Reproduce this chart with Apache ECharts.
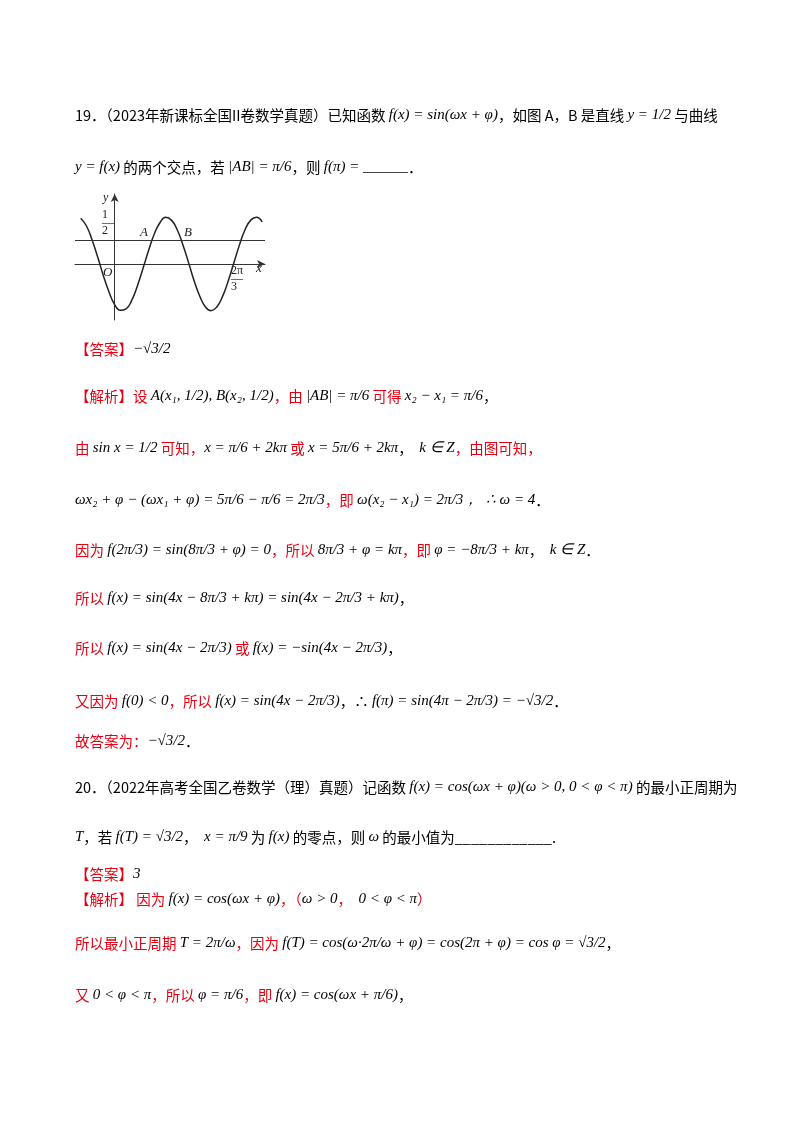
<!DOCTYPE html>
<html><head><meta charset="utf-8">
<script src="https://cdn.jsdelivr.net/npm/echarts@6/dist/echarts.min.js"></script>
<style>html,body{margin:0;background:#fff}#main{width:800px;height:1132px}</style>
</head><body><div id="main"></div>
<script>
// curve, x step 0.1 from -0.6
var xs = [-0.6,-0.5,-0.4,-0.3,-0.2,-0.1,0,0.1,0.2,0.3,0.4,0.5,0.6,0.7,0.8,0.9,1.0,1.1,1.2,1.3,1.4,1.5,1.6,1.7,1.8,1.9,2.0,2.1,2.2,2.3,2.4,2.5,2.6];
var ys = [0.98,0.82,0.52,0.15,-0.25,-0.6,-0.87,-0.99,-0.96,-0.78,-0.47,-0.09,0.3,0.65,0.89,1.0,0.94,0.74,0.42,0.04,-0.36,-0.69,-0.92,-1.0,-0.92,-0.7,-0.37,0.02,0.41,0.74,0.94,1.0,0.9];
var halfLine = 0.5;

var pts = xs.map(function(x, i){ return [x, ys[i]]; });
var RED = '#e60012';
var F = '"Noto Sans CJK SC", "Times New Roman", serif';

var lines = [
  [118, [['19．（2023年新课标全国II卷数学真题）已知函数 ','k'],['f(x) = sin(ωx + φ)','m'],['，如图 A，B 是直线 ','k'],['y = 1/2','m'],[' 与曲线','k']]],
  [170, [['y = f(x)','m'],[' 的两个交点，若 ','k'],['|AB| = π/6','m'],['，则 ','k'],['f(π) = ______','m'],['．','k']]],
  [352, [['【答案】','r'],['−√3/2','m']]],
  [399, [['【解析】设 ','r'],['A(x₁, 1/2), B(x₂, 1/2)','m'],['，由 ','r'],['|AB| = π/6','m'],[' 可得 ','r'],['x₂ − x₁ = π/6','m'],['，','k']]],
  [451, [['由 ','r'],['sin x = 1/2','m'],[' 可知，','r'],['x = π/6 + 2kπ','m'],[' 或 ','r'],['x = 5π/6 + 2kπ','m'],['，  ','k'],['k ∈ Z','m'],['，由图可知，','r']]],
  [503, [['ωx₂ + φ − (ωx₁ + φ) = 5π/6 − π/6 = 2π/3','m'],['，即 ','r'],['ω(x₂ − x₁) = 2π/3','m'],['，  ∴ ω = 4','m'],['．','k']]],
  [553, [['因为 ','r'],['f(2π/3) = sin(8π/3 + φ) = 0','m'],['，所以 ','r'],['8π/3 + φ = kπ','m'],['，即 ','r'],['φ = −8π/3 + kπ','m'],['，  ','k'],['k ∈ Z','m'],['．','k']]],
  [601, [['所以 ','r'],['f(x) = sin(4x − 8π/3 + kπ) = sin(4x − 2π/3 + kπ)','m'],['，','k']]],
  [651, [['所以 ','r'],['f(x) = sin(4x − 2π/3)','m'],[' 或 ','r'],['f(x) = −sin(4x − 2π/3)','m'],['，','k']]],
  [704, [['又因为 ','r'],['f(0) < 0','m'],['，所以 ','r'],['f(x) = sin(4x − 2π/3)','m'],['，∴ ','k'],['f(π) = sin(4π − 2π/3) = −√3/2','m'],['．','k']]],
  [744, [['故答案为：','r'],['−√3/2','m'],['．','k']]],
  [790, [['20．（2022年高考全国乙卷数学（理）真题）记函数 ','k'],['f(x) = cos(ωx + φ)(ω > 0, 0 < φ < π)','m'],[' 的最小正周期为','k']]],
  [840, [['T','m'],['，若 ','k'],['f(T) = √3/2','m'],['，  ','k'],['x = π/9','m'],[' 为 ','k'],['f(x)','m'],[' 的零点，则 ','k'],['ω','m'],[' 的最小值为____________.','k']]],
  [877, [['【答案】','r'],['3','m']]],
  [902, [['【解析】 因为 ','r'],['f(x) = cos(ωx + φ)','m'],['，（','r'],['ω > 0','m'],['，  ','r'],['0 < φ < π','m'],['）','r']]],
  [946, [['所以最小正周期 ','r'],['T = 2π/ω','m'],['，因为 ','r'],['f(T) = cos(ω·2π/ω + φ) = cos(2π + φ) = cos φ = √3/2','m'],['，','k']]],
  [998, [['又 ','r'],['0 < φ < π','m'],['，所以 ','r'],['φ = π/6','m'],['，即 ','r'],['f(x) = cos(ωx + π/6)','m'],['，','k']]]
];

var graphics = lines.map(function(l){
  var t = l[1].map(function(p){ return '{' + p[1] + '|' + p[0] + '}'; }).join('');
  return { type:'text', left:75, top:l[0]-10, style:{ text:t, rich:{
    k:{ fill:'#000', fontSize:14.5, fontFamily:F },
    r:{ fill:RED, fontSize:14.5, fontFamily:F },
    m:{ fill:'#000', fontSize:15, fontFamily:'"Liberation Serif", serif', fontStyle:'italic' }
  }}};
});

var myChart = echarts.init(document.getElementById('main'));
var option = {
  backgroundColor:'#fff',
  animation:false,
  grid:{ left:75, right:535, top:194, bottom:812 },
  xAxis:{ type:'value', min:-0.7, max:2.65, splitLine:{show:false}, axisTick:{show:false}, axisLabel:{show:false},
    axisLine:{ onZero:true, symbol:['none','arrow'], symbolSize:[6,8], lineStyle:{color:'#333', width:1} } },
  yAxis:{ type:'value', min:-1.2, max:1.5, splitLine:{show:false}, axisTick:{show:false}, axisLabel:{show:false},
    axisLine:{ onZero:true, symbol:['none','arrow'], symbolSize:[6,8], lineStyle:{color:'#333', width:1} } },
  series:[{
    type:'line', data:pts, smooth:true, showSymbol:false, lineStyle:{ color:'#222', width:1.5 },
    markLine:{ silent:true, symbol:'none', label:{show:false}, lineStyle:{ color:'#333', width:1, type:'solid' },
      data:[[{coord:[-0.7, halfLine]},{coord:[2.65, halfLine]}]] }
  }],
  graphic: graphics.concat([
    { type:'text', left:103, top:192, style:{ text:'y', font:'italic 12px "Liberation Serif"', fill:'#222' } },
    { type:'text', left:102, top:209, style:{ text:'1\n—\n2', font:'12px "Liberation Serif"', fill:'#222', lineHeight:8, align:'center' } },
    { type:'text', left:140, top:226, style:{ text:'A', font:'italic 13px "Liberation Serif"', fill:'#222' } },
    { type:'text', left:184, top:226, style:{ text:'B', font:'italic 13px "Liberation Serif"', fill:'#222' } },
    { type:'text', left:103, top:266, style:{ text:'O', font:'italic 13px "Liberation Serif"', fill:'#222' } },
    { type:'text', left:256, top:262, style:{ text:'x', font:'italic 13px "Liberation Serif"', fill:'#222' } },
    { type:'text', left:231, top:265, style:{ text:'2π\n—\n3', font:'12px "Liberation Serif"', fill:'#222', lineHeight:8, align:'center' } }
  ])
};
myChart.setOption(option);
</script></body></html>
